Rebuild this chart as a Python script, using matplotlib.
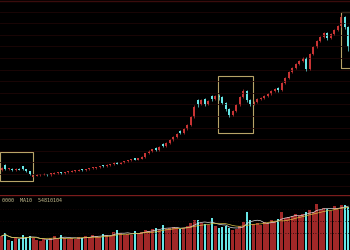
import numpy as np
import pandas as pd
import matplotlib
matplotlib.use('Agg')
import matplotlib.pyplot as plt
from matplotlib.patches import Rectangle

# candle data (price units = arbitrary scale)
opens = [27, 32, 28, 28, 27, 28, 31, 28, 26, 20.5,
         21.5, 22, 22.5, 23, 22, 23.5, 24, 25, 24, 25,
         25.5, 26, 26.5, 27.5, 27, 28, 29, 29, 30, 31.5,
         31, 32, 33, 35, 33.5, 35, 36, 37, 38.5, 37.5,
         38.5, 40, 44, 46, 49, 47, 53, 51, 54, 57,
         60, 66, 64, 68, 72, 80, 97, 93, 98, 93,
         101, 98, 101, 100, 94, 88, 82, 86, 92, 100,
         106, 97, 93, 95, 98, 99, 101, 103, 106, 109,
         107, 114, 119, 125, 129, 133, 136, 139, 128, 143,
         150, 156, 160, 164, 159, 163, 167, 171, 180, 170]
closes = [29, 28, 28.5, 27, 28, 27.5, 28, 26, 23, 21.5,
          22, 22.5, 23, 22, 23.5, 24, 24.5, 24, 25, 25.5,
          26, 26.5, 27, 27, 28, 29, 29.3, 30, 31, 31,
          32, 33, 34, 33.5, 35, 36, 37, 37.5, 37.5, 38.5,
          40, 44, 46, 48, 47, 50, 51, 54, 57, 60,
          63, 64, 68, 72, 80, 90, 93, 97, 93, 96,
          98, 101, 100, 94, 88, 82, 86, 92, 100, 106,
          97, 93, 95, 98, 99, 101, 103, 106, 108, 107,
          114, 119, 125, 129, 133, 136, 139, 128, 143, 150,
          156, 160, 164, 159, 163, 167, 171, 180, 170, 150]
highs = [30, 33, 29, 29, 29, 29, 31.5, 28.5, 26.5, 22,
         23, 23, 24, 23.5, 24, 25, 25, 25.5, 25.5, 26,
         27, 27, 28, 28, 28.5, 29.5, 30, 30.5, 31.5, 32,
         33, 33.5, 35, 35.5, 35.5, 36.5, 37.5, 38, 39, 39,
         41, 44.5, 47, 48.5, 50, 51, 54, 55, 58, 61,
         64, 67, 69, 73, 81, 92, 98, 98, 99, 97,
         102, 102, 103, 101, 95, 89, 87, 93, 101, 108,
         107, 98, 96, 99, 100, 102, 104, 107, 109, 110,
         115, 120, 126, 130, 134, 137, 140, 140, 144, 151,
         157, 161, 165, 165, 164, 168, 172, 182, 181, 171]
lows = [26, 27, 27, 26, 26, 27, 27, 25, 22, 20,
        21, 21.5, 22, 21.5, 21.5, 23, 23.5, 23.5, 23.5, 24.5,
        25, 25.5, 26, 26.5, 26.5, 27.5, 28, 28.5, 29.5, 30.5,
        30.5, 31.5, 32.5, 33, 33, 34.5, 35.5, 36.5, 37, 37,
        38, 39.5, 43.5, 45.5, 46, 46.5, 50, 50.5, 53.5, 56.5,
        59.5, 63, 63.5, 67.5, 71.5, 79.5, 90, 92, 91, 92,
        96, 97, 97, 93, 86, 80, 81, 85, 91, 99,
        95, 91, 92, 94, 97, 98, 100, 102, 105, 105,
        106, 113, 118, 124, 128, 132, 135, 126, 127, 142,
        149, 155, 159, 157, 158, 162, 166, 170, 168, 146]
volumes = [14, 17, 10, 9, 12, 11, 15, 13, 14, 12,
           10, 9, 11, 10, 12, 14, 11, 15, 12, 11,
           12, 11, 13, 12, 14, 13, 15, 14, 13, 16,
           15, 14, 18, 20, 17, 15, 16, 15, 19, 17,
           18, 20, 19, 21, 22, 20, 25, 21, 22, 23,
           22, 21, 22, 24, 27, 30, 30, 27, 26, 25,
           32, 24, 22, 23, 24, 22, 20, 21, 24, 28,
           38, 30, 26, 27, 25, 28, 27, 30, 29, 31,
           38, 32, 33, 34, 36, 35, 36, 38, 40, 38,
           46, 40, 42, 41, 39, 44, 42, 45, 45, 43]
vol_text = '0000  MA10  54810104'

RED = '#c83434'
VRED = '#a02828'
CYAN = '#66e6e6'
GRID = '#1e0707'
BOX = '#b8a468'

o = np.array(opens)
c = np.array(closes)
n = len(c)
x = np.arange(n)
up = c >= o

fig = plt.figure(figsize=(3.5, 2.5), dpi=100, facecolor='black')
ax = fig.add_axes([0, 55 / 250, 1, 195 / 250], facecolor='black')
axv = fig.add_axes([0, 0, 1, 55 / 250], facecolor='black')

# price panel
ax.vlines(x, lows, highs, colors=np.where(up, RED, CYAN), lw=0.5)
ax.bar(x[up], (c - o)[up] + 0.3, bottom=o[up], width=0.5, color=RED)
ax.bar(x[~up], (o - c)[~up] + 0.3, bottom=c[~up], width=0.5, color=CYAN)
ax.set_xlim(-0.5, n - 0.5)
ax.set_ylim(2, 197)
ax.set_yticks(197 - 11.6 * np.arange(1, 17))
ax.grid(axis='y', color=GRID, lw=0.6)
ax.set_xticks([])
ax.tick_params(left=False, labelleft=False)
for s in ax.spines.values():
    s.set_visible(False)
ax.axhline(196.3, color='#3a0c0c', lw=1)

for x0, y0, w, h in [(-0.6, 16, 9.6, 29), (61.8, 64, 10.1, 57), (97.0, 129, 3.5, 56)]:
    ax.add_patch(Rectangle((x0, y0), w, h, fill=False, ec=BOX, lw=0.8, clip_on=False))

# volume panel
v = pd.Series(volumes, dtype=float)
axv.bar(x[up], v[up], width=0.85, color=VRED)
axv.bar(x[~up], v[~up], width=0.45, color=CYAN)
axv.plot(x, v.rolling(5, min_periods=1).mean(), color='#dddddd', lw=0.5)
axv.plot(x, v.rolling(10, min_periods=1).mean(), color='#d8c040', lw=0.5)
axv.set_xlim(-0.5, n - 0.5)
axv.set_ylim(0, 55)
axv.set_yticks([41, 29, 17])
axv.grid(axis='y', color=GRID, lw=0.6, ls=(0, (1, 2)))
axv.set_xticks([])
axv.tick_params(left=False, labelleft=False)
for s in axv.spines.values():
    s.set_visible(False)
axv.axhline(55, color='#7a1c1c', lw=1)
axv.text(0, 50, vol_text, color='#c8c090', fontsize=3.6, va='center', ha='left',
         family='DejaVu Sans Mono')

fig.savefig('out.png', dpi=100, facecolor='black')
